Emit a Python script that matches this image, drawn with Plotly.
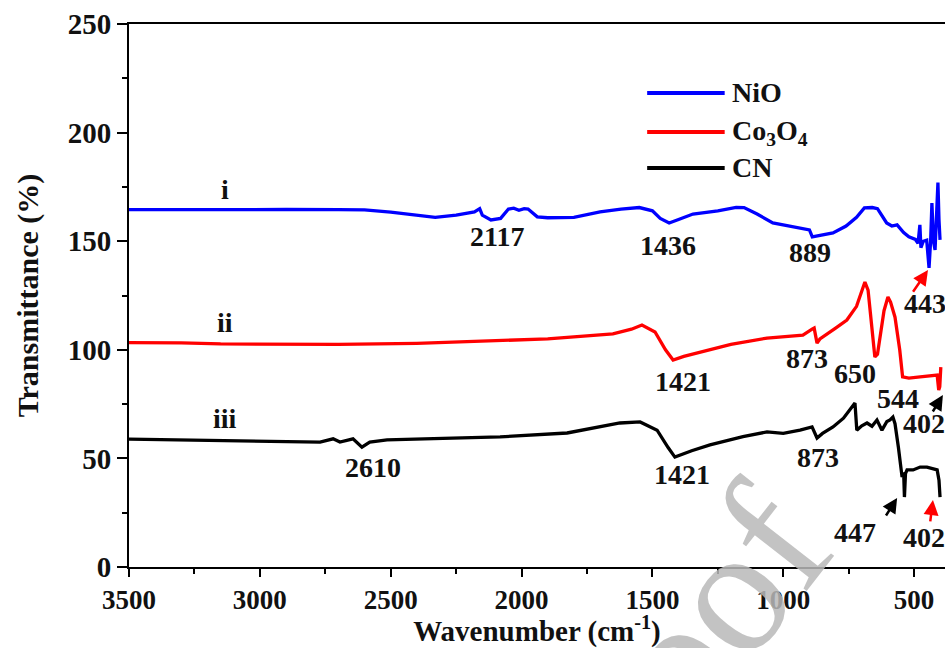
import plotly.graph_objects as go

# ---------------- data ----------------
nio_x = [3500, 3300, 3100, 2900, 2700, 2600, 2500, 2400, 2330, 2250, 2180, 2160, 2150, 2117,
         2080, 2050, 2030, 2010, 1990, 1975, 1940, 1900, 1800, 1700, 1620, 1550, 1500, 1470,
         1436, 1400, 1345, 1250, 1180, 1150, 1100, 1040, 960, 900, 889, 850, 810, 760, 720,
         690, 660, 640, 605, 585, 565, 540, 520, 495, 485, 478, 474, 465, 452, 443, 437, 432,
         426, 420, 413, 409, 405, 401]
nio_y = [164.5, 164.6, 164.4, 164.6, 164.5, 164.4, 163.4, 161.8, 161.0, 162.0, 163.5, 165.0, 162.0, 159.8,
         160.5, 164.8, 165.2, 164.2, 165.0, 164.8, 161.2, 160.8, 161.0, 163.5, 164.8, 165.5, 164.0, 160.5,
         158.4, 160.0, 162.5, 164.0, 165.6, 165.5, 162.5, 158.4, 156.5, 155.2, 152.0, 152.8, 153.8, 157.0, 161.0,
         165.3, 165.5, 165.0, 158.4, 157.0, 157.5, 154.0, 152.0, 150.8, 149.0, 157.5, 147.0, 150.0, 150.5, 137.7, 150.0, 167.6,
         150.0, 146.0, 168.0, 177.0, 160.0, 150.6]

co_x = [3500, 3300, 3150, 3000, 2700, 2400, 2159, 1900, 1651, 1580, 1540, 1490, 1450, 1421, 1380,
        1318, 1200, 1062, 925, 890, 882, 871, 860, 800, 757, 720, 700, 688, 676, 660, 650, 640,
        615, 600, 590, 573, 555, 544, 520, 477, 430, 412, 406, 402, 398]
co_y = [103.3, 103.2, 102.7, 102.6, 102.5, 103.0, 104.0, 105.0, 107.3, 109.5, 111.4, 108.2, 100.0, 95.3, 97.0,
        99.0, 102.5, 105.4, 106.8, 109.5, 110.0, 103.1, 105.0, 110.0, 113.7, 120.0, 126.5, 131.2, 127.5, 110.0, 96.7, 98.0,
        118.0, 124.3, 122.0, 115.0, 100.0, 87.5, 87.0, 87.5, 88.0, 88.4, 81.5, 83.0, 92.0]

cn_x = [3500, 3300, 3000, 2800, 2770, 2720, 2694, 2644, 2610, 2580, 2514, 2300, 2082, 1826, 1624,
        1547, 1482, 1440, 1414, 1350, 1280, 1154, 1062, 1000, 936, 890, 871, 850, 810, 770, 753,
        726, 719, 700, 680, 661, 642, 623, 604, 592, 581, 573, 560, 546, 540, 537, 533, 527, 504,
        477, 451, 412, 405, 401]
cn_y = [58.9, 58.6, 58.2, 57.8, 57.5, 59.0, 57.5, 59.0, 55.2, 57.5, 58.5, 59.2, 59.9, 61.7, 66.3,
        66.8, 63.0, 55.0, 50.6, 53.5, 56.2, 60.0, 62.2, 61.5, 63.0, 64.5, 59.4, 61.5, 64.5, 68.5, 71.4,
        75.5, 63.0, 65.0, 66.3, 64.8, 67.7, 63.0, 67.0, 67.7, 69.0, 66.0, 55.0, 41.4, 43.5, 32.2, 43.0, 44.7, 44.7,
        46.0, 46.0, 44.7, 40.0, 32.2]

series_names = ["NiO", "Co<sub>3</sub>O<sub>4</sub>", "CN"]
series_colors = ["#0000ff", "#ff0000", "#000000"]

# curve labels (text, x, y)
curve_labels = [("i", 3133, 173.6), ("ii", 3133, 112.8), ("iii", 3133, 68.6)]
# peak labels (text, x, y)
peak_labels = [("2117", 2094, 152.0), ("1436", 1440, 148.2), ("889", 898, 145.0), ("443", 458, 121.5),
               ("1421", 1383, 85.2), ("873", 909, 96.2), ("650", 726, 89.3), ("544", 562, 77.8),
               ("402", 462, 66.3), ("1421", 1387, 42.4), ("873", 867, 50.2), ("2610", 2568, 46.0),
               ("447", 726, 15.7), ("402", 462, 13.8)]
# arrows (head x, head y, tail x, tail y, color)
arrows = [(447, 136.7, 508, 126.0, "#ff0000"), (390, 79.2, 432, 70.9, "#000000"),
          (565, 31.8, 611, 23.0, "#000000"), (428, 30.8, 439, 20.3, "#ff0000")]

FONT = "Liberation Serif"

fig = go.Figure()
for xs, ys, name, col in [(nio_x, nio_y, series_names[0], series_colors[0]),
                          (co_x, co_y, series_names[1], series_colors[1]),
                          (cn_x, cn_y, series_names[2], series_colors[2])]:
    fig.add_trace(go.Scatter(x=xs, y=ys, mode="lines", name=name,
                             line=dict(color=col, width=3.3), showlegend=False))

anns = []
# watermark (drawn first so the labels sit on top)
anns.append(dict(x=0.66, y=-0.19, xref="paper", yref="paper", text="Proof", showarrow=False,
                 xanchor="center", yanchor="middle", textangle=-52,
                 font=dict(family=FONT, size=180, color="rgba(185,185,185,0.85)")))

for t, x, y in curve_labels + peak_labels:
    anns.append(dict(x=x, y=y, text=t, showarrow=False, xref="x", yref="y",
                     font=dict(family=FONT, size=28, color="#111111", weight="bold")))
for hx, hy, tx, ty, col in arrows:
    anns.append(dict(x=hx, y=hy, ax=tx, ay=ty, xref="x", yref="y", axref="x", ayref="y",
                     text="", showarrow=True, arrowhead=2, arrowsize=1.2, arrowwidth=2.5,
                     arrowcolor=col))

# legend drawn as lines + labels
leg_y = [0.873, 0.801, 0.735]
shapes = []
for name, col, ly in zip(series_names, series_colors, leg_y):
    shapes.append(dict(type="line", xref="paper", yref="paper", x0=0.635, x1=0.730, y0=ly, y1=ly,
                       line=dict(color=col, width=4)))
    anns.append(dict(x=0.737, y=ly, xref="paper", yref="paper", text=name, showarrow=False,
                     xanchor="left", yanchor="middle",
                     font=dict(family=FONT, size=28, color="#111111", weight="bold")))

fig.update_layout(
    width=945, height=648,
    margin=dict(l=129, r=0, t=24, b=81),
    paper_bgcolor="white", plot_bgcolor="white",
    showlegend=False,
    annotations=anns, shapes=shapes,
    font=dict(family=FONT, color="#111111"),
)
fig.update_xaxes(range=[3500, 382], showgrid=False, zeroline=False,
                 showline=True, linecolor="black", linewidth=2, mirror=True,
                 ticks="outside", ticklen=8, tickwidth=2, tickcolor="black",
                 tick0=0, dtick=500, ticklabelstandoff=0,
                 minor=dict(ticks="outside", ticklen=5, tickwidth=2, dtick=250, tickcolor="black"),
                 tickfont=dict(family=FONT, size=27, color="#111111", weight="bold"),
                 title=dict(text="Wavenumber (cm<sup>-1</sup>)", standoff=2,
                            font=dict(family=FONT, size=29, color="#111111", weight="bold")))
fig.update_yaxes(range=[0, 250], showgrid=False, zeroline=False,
                 showline=True, linecolor="black", linewidth=2, mirror=False,
                 ticks="outside", ticklen=10, tickwidth=2, tickcolor="black",
                 tick0=0, dtick=50,
                 minor=dict(ticks="outside", ticklen=5, tickwidth=2, dtick=25, tickcolor="black"),
                 tickfont=dict(family=FONT, size=29, color="#111111", weight="bold"),
                 title=dict(text="Transmittance (%)", standoff=20,
                            font=dict(family=FONT, size=30, color="#111111", weight="bold")))

fig.write_html("out.html")
